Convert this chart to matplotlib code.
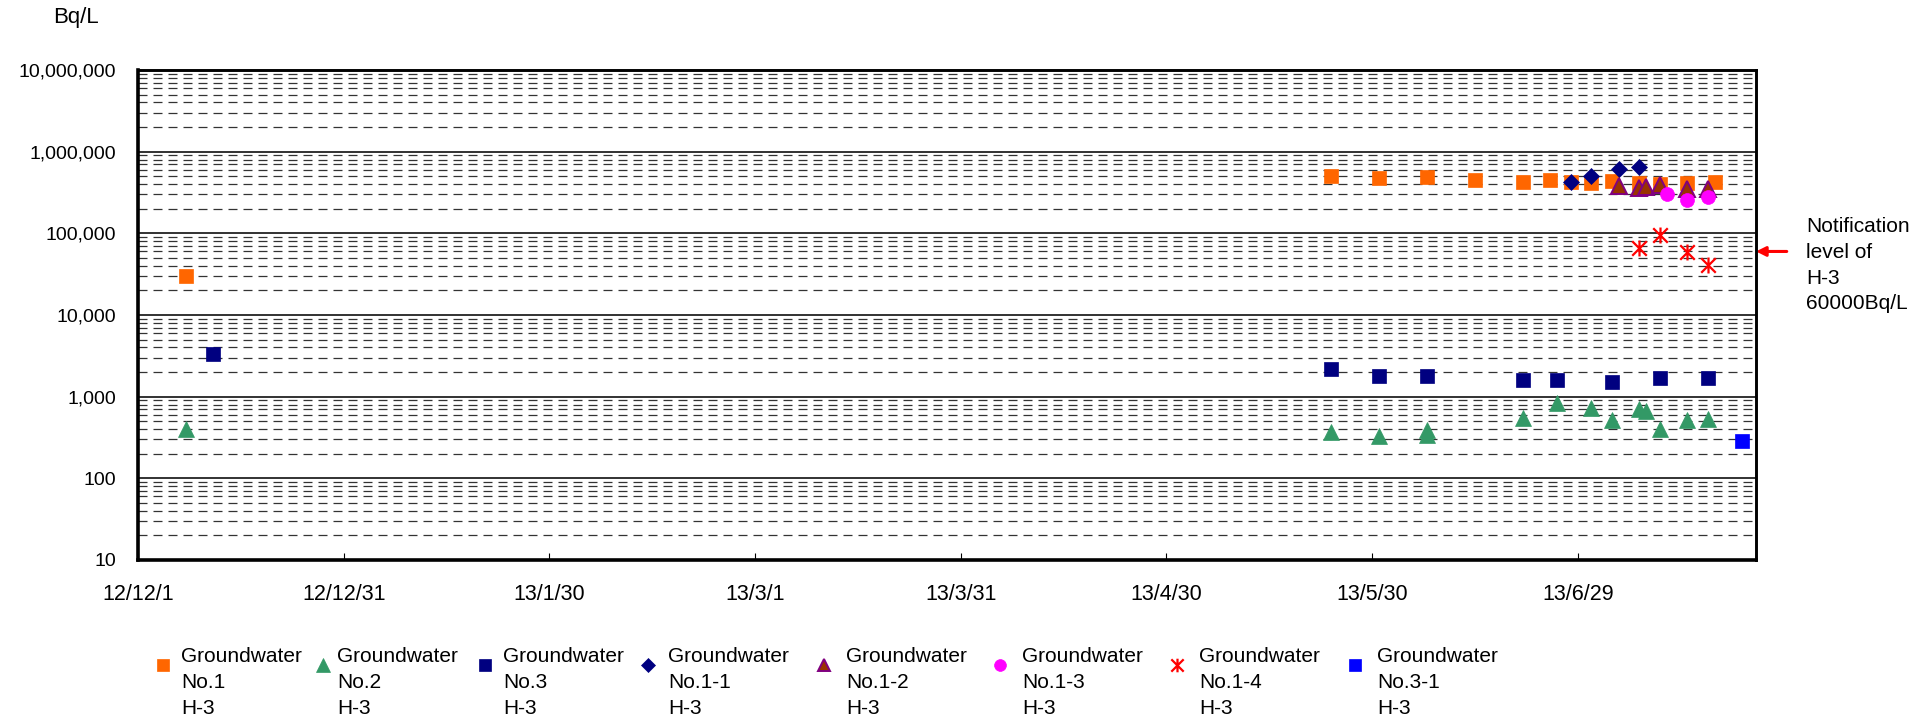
"""Groundwater H-3 concentrations (Bq/L), log scale, Dec 2012 - Jul 2013."""
import datetime as dt

import matplotlib
matplotlib.use("Agg")
import matplotlib.dates as mdates
import matplotlib.pyplot as plt
from matplotlib.lines import Line2D
from matplotlib.path import Path
from matplotlib.ticker import FixedLocator, FuncFormatter, LogLocator, NullFormatter

plt.rcParams["font.family"] = ["Liberation Sans", "DejaVu Sans"]

# ---- data --------------------------------------------------------------------
gw1_dates = ["2012-12-08", "2013-05-24", "2013-05-31", "2013-06-07", "2013-06-14",
             "2013-06-21", "2013-06-25", "2013-06-28", "2013-07-01", "2013-07-04",
             "2013-07-08", "2013-07-11", "2013-07-15", "2013-07-19"]
gw1_vals = [30000, 500000, 470000, 490000, 450000, 430000, 450000, 430000, 410000,
            440000, 410000, 400000, 410000, 430000]

gw2_dates = ["2012-12-08", "2013-05-24", "2013-05-31", "2013-06-07", "2013-06-07",
             "2013-06-21", "2013-06-26", "2013-07-01", "2013-07-04", "2013-07-08",
             "2013-07-09", "2013-07-11", "2013-07-15", "2013-07-18"]
gw2_vals = [400, 370, 330, 390, 340, 550, 830, 730, 520, 710, 660, 400, 520, 530]

gw3_dates = ["2012-12-12", "2013-05-24", "2013-05-31", "2013-06-07", "2013-06-21",
             "2013-06-26", "2013-07-04", "2013-07-11", "2013-07-18"]
gw3_vals = [3300, 2200, 1800, 1800, 1600, 1600, 1500, 1700, 1700]

gw11_dates = ["2013-06-28", "2013-07-01", "2013-07-05", "2013-07-08"]
gw11_vals = [430000, 510000, 610000, 640000]

gw12_dates = ["2013-07-05", "2013-07-08", "2013-07-09", "2013-07-11", "2013-07-15",
              "2013-07-18"]
gw12_vals = [380000, 360000, 370000, 390000, 350000, 350000]

gw13_dates = ["2013-07-12", "2013-07-15", "2013-07-18"]
gw13_vals = [300000, 255000, 275000]

gw14_dates = ["2013-07-08", "2013-07-11", "2013-07-15", "2013-07-18"]
gw14_vals = [67000, 96000, 59000, 41000]

gw31_dates = ["2013-07-23"]
gw31_vals = [290]

notify_level = 60000

x_tick_dates = ["2012-12-01", "2012-12-31", "2013-01-30", "2013-03-01", "2013-03-31",
                "2013-04-30", "2013-05-30", "2013-06-29"]
x_tick_labels = ["12/12/1", "12/12/31", "13/1/30", "13/3/1", "13/3/31", "13/4/30",
                 "13/5/30", "13/6/29"]
x_min, x_max = "2012-12-01", "2013-07-25"

labels = ["Groundwater\nNo.1\nH-3", "Groundwater\nNo.2\nH-3", "Groundwater\nNo.3\nH-3",
          "Groundwater\nNo.1-1\nH-3", "Groundwater\nNo.1-2\nH-3",
          "Groundwater\nNo.1-3\nH-3", "Groundwater\nNo.1-4\nH-3",
          "Groundwater\nNo.3-1\nH-3"]


def to_num(dates):
    return mdates.date2num([dt.datetime.strptime(s, "%Y-%m-%d") for s in dates])


# Excel-like "star": an X with a vertical bar through it
star = Path([(-1, -1), (1, 1), (-1, 1), (1, -1), (0, -1.1), (0, 1.1)],
            [Path.MOVETO, Path.LINETO] * 3)

styles = [
    dict(marker="s", ms=10, mfc="#FF6600", mec="#FF6600", mew=0.5),
    dict(marker="^", ms=11.5, mfc="#339966", mec="#339966", mew=0.5),
    dict(marker="s", ms=10, mfc="#000080", mec="#000080", mew=0.5),
    dict(marker="D", ms=7.8, mfc="#000080", mec="#000080", mew=0.5),
    dict(marker="^", ms=11, mfc="#993300", mec="#800080", mew=1.4),
    dict(marker="o", ms=10, mfc="#FF00FF", mec="#FF00FF", mew=0.5),
    dict(marker=star, ms=11.5, mfc="none", mec="#FF0000", mew=1.6),
    dict(marker="s", ms=10, mfc="#0000FF", mec="#0000FF", mew=0.5),
]
series = [(gw1_dates, gw1_vals), (gw2_dates, gw2_vals), (gw3_dates, gw3_vals),
          (gw11_dates, gw11_vals), (gw12_dates, gw12_vals), (gw13_dates, gw13_vals),
          (gw14_dates, gw14_vals), (gw31_dates, gw31_vals)]

W, H = 1933, 720
fig = plt.figure(figsize=(W / 100, H / 100), dpi=100)
ax = fig.add_axes([138 / W, 1 - 560 / H, (1756 - 138) / W, (560 - 70) / H])

for (dts, vals), st in zip(series, styles):
    ax.plot(to_num(dts), vals, ls="none", zorder=3, clip_on=False, **st)

ax.set_yscale("log")
ax.set_ylim(10, 1e7)
ax.set_xlim(to_num([x_min])[0], to_num([x_max])[0])

ax.yaxis.set_major_locator(LogLocator(base=10, numticks=10))
ax.yaxis.set_minor_locator(LogLocator(base=10, subs=range(2, 10), numticks=20))
ax.yaxis.set_major_formatter(FuncFormatter(lambda v, p: f"{v:,.0f}"))
ax.yaxis.set_minor_formatter(NullFormatter())
ax.tick_params(axis="y", which="both", length=0, pad=16, labelsize=14)

ax.xaxis.set_major_locator(FixedLocator(to_num(x_tick_dates)))
ax.set_xticklabels(x_tick_labels)
ax.tick_params(axis="x", which="major", direction="in", length=5, width=0.8,
               pad=17, labelsize=15.5)
ax.tick_params(axis="x", which="minor", length=0)

ax.grid(True, axis="y", which="major", color="#222222", lw=1.3, ls="-")
ax.grid(True, axis="y", which="minor", color="#333333", lw=0.9,
        ls=(0, (7.2, 4.8)))
ax.set_axisbelow(True)

for side in ("left", "bottom"):
    ax.spines[side].set_linewidth(2.6)
for side in ("top", "right"):
    ax.spines[side].set_linewidth(2.1)

# notification level arrow + note
ax.annotate("", xy=(1.0, notify_level), xycoords=("axes fraction", "data"),
            xytext=(1.019, notify_level), textcoords=("axes fraction", "data"),
            arrowprops=dict(arrowstyle="-|>", color="#FF0000", lw=2.2,
                            mutation_scale=14, shrinkA=0, shrinkB=0),
            annotation_clip=False)
note_lines = ["Notification", "level of", "H-3", "60000Bq/L"]
for i, ln in enumerate(note_lines):
    fig.text(1806 / W, 1 - (227 + 25.5 * i) / H, ln, ha="left", va="center",
             fontsize=15)

fig.text(76 / W, 1 - 17 / H, "Bq/L", ha="center", va="center", fontsize=16)

# legend, laid out like the original (marker beside a three-line label)
leg_marker_x = [163, 323, 485, 648, 824, 1000, 1177, 1355]
leg_text_x = [181, 337, 503, 668, 846, 1022, 1199, 1377]
for lab, st, mx, tx in zip(labels, styles, leg_marker_x, leg_text_x):
    lst = dict(st)
    lst["ms"] = st["ms"] * 0.85
    fig.add_artist(Line2D([mx / W], [1 - 665 / H], ls="none",
                          transform=fig.transFigure, **lst))
    for i, ln in enumerate(lab.split("\n")):
        fig.text(tx / W, 1 - (657 + 25.5 * i) / H, ln, ha="left", va="center",
                 fontsize=15)

fig.savefig("out.png", dpi=100)
plt.close(fig)
